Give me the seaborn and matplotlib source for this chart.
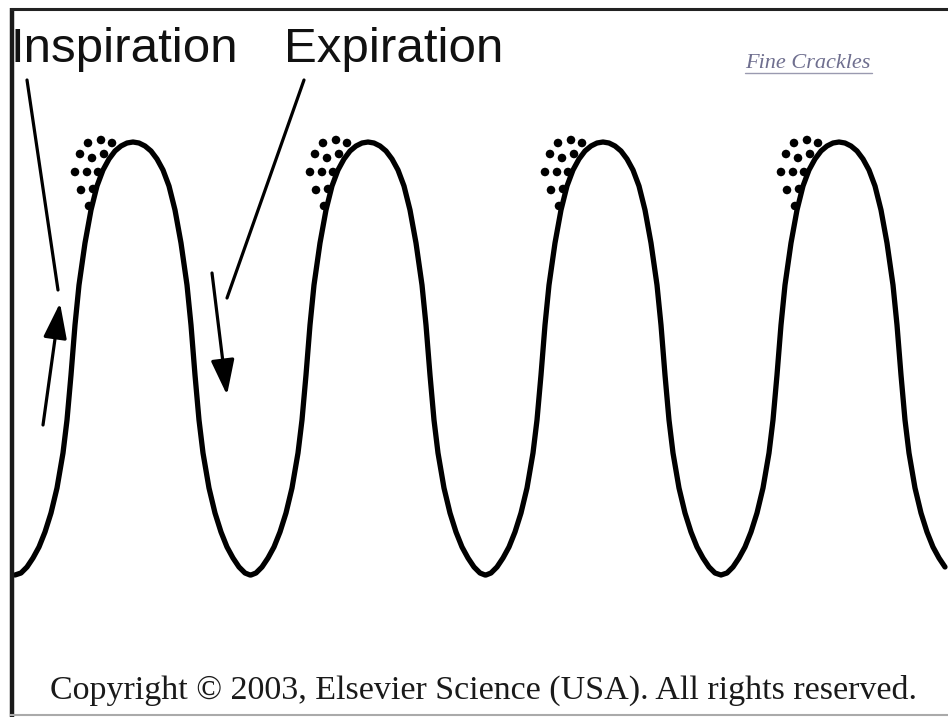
import numpy as np
import pandas as pd
import matplotlib
matplotlib.use("Agg")
import matplotlib.pyplot as plt
import seaborn as sns

sns.set_theme(style="white")

# ---- data (pixel coordinates, y downward) ----
peak_x = [133, 368, 603, 839]
# half-profile of one breath cycle: horizontal offset from the peak and height
profile_dx = [0, 6, 12, 18, 24, 30, 36, 42, 48, 54, 58, 62, 66, 70, 76, 82, 88, 94, 100, 106, 112, 118]
profile_y = [142, 143, 146, 151, 159, 170, 186, 210, 243, 285, 325, 375, 420, 453, 488, 513, 532, 547, 558, 567, 573, 575]
# crackle dots: offset from the peak and height
crackle_dx = [-45, -32, -21, -53, -41, -29, -58, -46, -35, -52, -40, -44]
crackle_y = [143, 140, 143, 154, 158, 154, 172, 172, 172, 190, 189, 206]
x_start, x_end = 14, 948

labels = ["Inspiration", "Expiration"]
title_right = "Fine Crackles"
footer = "Copyright \u00a9 2003, Elsevier Science (USA). All rights reserved."

# ---- build curve table ----
xs, ys = [], []
for p in peak_x:
    for dx, y in zip(profile_dx[::-1], profile_y[::-1]):
        xs.append(p - dx); ys.append(y)
    for dx, y in zip(profile_dx[1:], profile_y[1:]):
        xs.append(p + dx); ys.append(y)
curve = pd.DataFrame({"x": xs, "y": ys}).drop_duplicates("x").sort_values("x")
curve = curve[(curve.x >= x_start) & (curve.x <= x_end)]

dots = pd.DataFrame({
    "x": [p + d for p in peak_x for d in crackle_dx],
    "y": [y for p in peak_x for y in crackle_y],
})

fig = plt.figure(figsize=(9.48, 7.17), dpi=100)
ax = fig.add_axes([0, 0, 1, 1])
ax.set_xlim(0, 948)
ax.set_ylim(717, 0)
ax.axis("off")

sns.lineplot(data=curve, x="x", y="y", ax=ax, color="black", linewidth=3.8,
             sort=False, estimator=None, solid_joinstyle="round")
sns.scatterplot(data=dots, x="x", y="y", ax=ax, color="black", s=38, edgecolor="none")

# frame lines
ax.plot([12, 12], [8, 717], color="#1a1a1a", lw=3.2, solid_capstyle="butt")
ax.plot([10, 948], [9, 9], color="#222222", lw=2.2, solid_capstyle="butt")
ax.plot([10, 948], [715, 715], color="#aaaaaa", lw=1.5, solid_capstyle="butt")

# pointer lines
ax.plot([27, 58], [80, 290], color="black", lw=2.3)
ax.plot([304, 227], [80, 298], color="black", lw=2.3)
# arrows
ax.annotate("", xy=(60, 303), xytext=(43, 425),
            arrowprops=dict(arrowstyle="-|>,head_length=1.8,head_width=0.6",
                            color="black", lw=2.3, shrinkA=0, shrinkB=0))
ax.annotate("", xy=(227, 395), xytext=(212, 273),
            arrowprops=dict(arrowstyle="-|>,head_length=1.8,head_width=0.6",
                            color="black", lw=2.3, shrinkA=0, shrinkB=0))

ax.text(11, 62, labels[0], fontsize=35.5, family="Liberation Sans", color="#111111",
        va="baseline", ha="left")
ax.text(284, 62, labels[1], fontsize=35.5, family="Liberation Sans", color="#111111",
        va="baseline", ha="left")

ax.text(808, 68, title_right, fontsize=16, family="Liberation Serif", style="italic",
        color="#6f6f8f", va="baseline", ha="center")
ax.plot([745, 872], [73, 73], color="#9a9ab0", lw=1)

ax.text(484, 699, footer, fontsize=24.5, family="Liberation Serif", color="#1a1a1a",
        va="baseline", ha="center")

fig.savefig("out.png", dpi=100)
